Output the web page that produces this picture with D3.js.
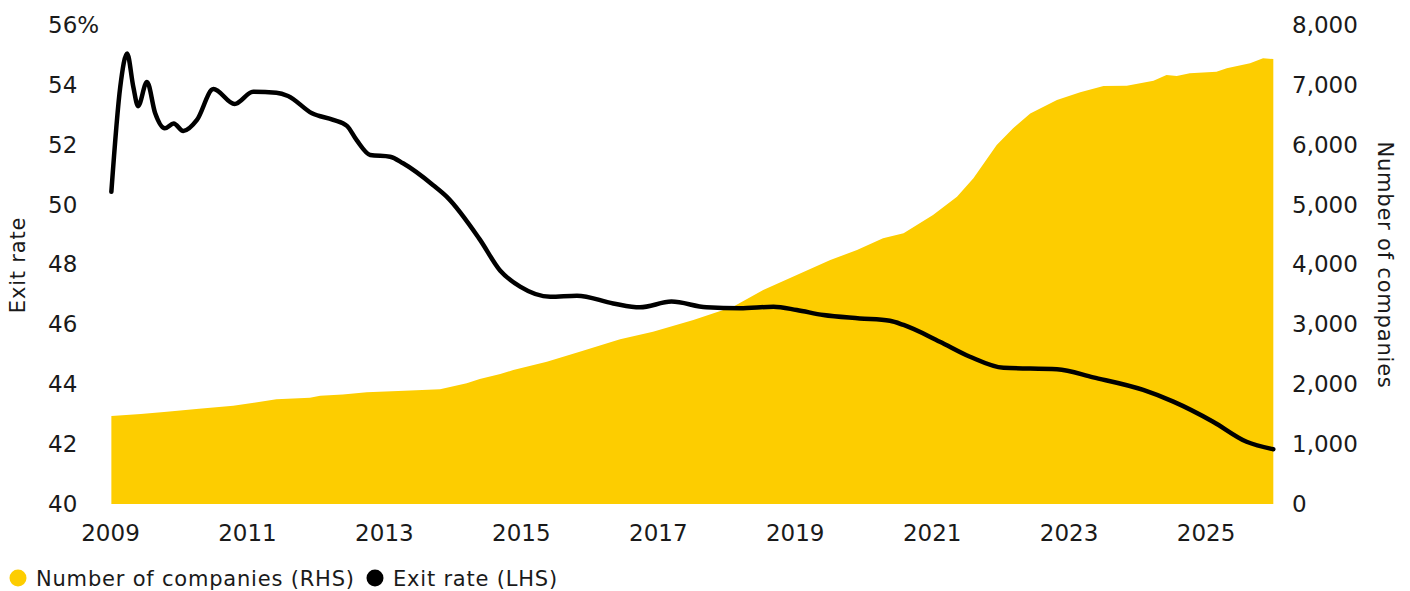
<!DOCTYPE html>
<html>
<head>
<meta charset="utf-8">
<script src="https://cdn.jsdelivr.net/npm/d3@7"></script>
<style>
  body { margin: 0; background: #fff; }
  svg text { font-family: "DejaVu Sans", sans-serif; fill: #1a1a1a; }
  .tick text { font-size: 23px; }
  .lbl { font-size: 21px; letter-spacing: 0.8px; }
</style>
</head>
<body>
<div id="chart"></div>
<script>
// exit rate, % (LHS) - dates as decimal years
const exitDates = [2009.02, 2009.15, 2009.25, 2009.34, 2009.41, 2009.54, 2009.66, 2009.80, 2009.93, 2010.07,
  2010.27, 2010.51, 2010.82, 2011.09, 2011.43, 2011.60, 2011.95, 2012.26, 2012.46, 2012.60,
  2012.80, 2013.09, 2013.28, 2013.72, 2013.92, 2014.40, 2014.70, 2014.99, 2015.43, 2015.82,
  2016.35, 2016.74, 2017.20, 2017.71, 2018.20, 2018.69, 2019.03, 2019.42, 2019.95, 2020.39,
  2020.59, 2021.12, 2021.56, 2022.05, 2022.83, 2023.36, 2024.09, 2024.53, 2025.11, 2025.60, 2025.99];
const exitRate = [50.43, 53.94, 55.05, 53.94, 53.29, 54.10, 53.05, 52.55, 52.71, 52.46,
  52.83, 53.86, 53.36, 53.77, 53.74, 53.63, 53.05, 52.83, 52.63, 52.16,
  51.66, 51.60, 51.38, 50.65, 50.26, 48.84, 47.79, 47.26, 46.92, 46.96,
  46.70, 46.57, 46.76, 46.57, 46.54, 46.59, 46.48, 46.31, 46.20, 46.12,
  45.98, 45.42, 44.92, 44.55, 44.50, 44.23, 43.81, 43.42, 42.75, 42.08, 41.83];

// number of companies (RHS)
const countDates = [2009.02, 2009.45, 2009.83, 2010.30, 2010.80, 2011.10, 2011.43, 2011.92, 2012.07, 2012.40,
  2012.75, 2013.30, 2013.82, 2014.21, 2014.40, 2014.70, 2014.89, 2015.38, 2015.86, 2016.45,
  2016.93, 2017.52, 2018.10, 2018.54, 2019.03, 2019.52, 2019.91, 2020.29, 2020.59, 2021.02,
  2021.37, 2021.61, 2021.95, 2022.19, 2022.44, 2022.83, 2023.17, 2023.51, 2023.85, 2024.24,
  2024.43, 2024.58, 2024.77, 2025.16, 2025.31, 2025.65, 2025.84, 2025.99];
const companies = [1470, 1505, 1541, 1590, 1642, 1690, 1748, 1775, 1809, 1830,
  1865, 1890, 1915, 2015, 2088, 2171, 2238, 2377, 2544, 2750,
  2878, 3073, 3295, 3574, 3824, 4075, 4242, 4437, 4521, 4826,
  5132, 5439, 5995, 6274, 6524, 6747, 6875, 6981, 6986, 7070,
  7164, 7148, 7193, 7220, 7276, 7360, 7443, 7432];

const xTicks = [2009, 2011, 2013, 2015, 2017, 2019, 2021, 2023, 2025];
const leftTicks = [40, 42, 44, 46, 48, 50, 52, 54, 56];
const rightTicks = [0, 1000, 2000, 3000, 4000, 5000, 6000, 7000, 8000];

const W = 1410, H = 591;
const yellow = "#FDCD00";

var svg = d3.select("#chart").append("svg")
  .attr("width", W).attr("height", H);

var x = d3.scaleLinear().domain([2009, 2026]).range([110, 1274]);
var yL = d3.scaleLinear().domain([40, 56]).range([504, 25]);
var yR = d3.scaleLinear().domain([0, 8000]).range([504, 25]);

var areaData = countDates.map((d, i) => ({date: d, v: companies[i]}));
var lineData = exitDates.map((d, i) => ({date: d, v: exitRate[i]}));

// yellow area
svg.append("path")
  .datum(areaData)
  .attr("fill", yellow)
  .attr("d", d3.area()
    .x(d => x(d.date))
    .y0(yR(0))
    .y1(d => yR(d.v)));

// exit rate line
svg.append("path")
  .datum(lineData)
  .attr("fill", "none")
  .attr("stroke", "#000")
  .attr("stroke-width", 4.5)
  .attr("stroke-linecap", "round")
  .attr("stroke-linejoin", "round")
  .attr("d", d3.line()
    .curve(d3.curveMonotoneX)
    .x(d => x(d.date))
    .y(d => yL(d.v)));

// axes
var gx = svg.append("g")
  .attr("transform", "translate(0,504)")
  .call(d3.axisBottom(x).tickValues(xTicks).tickFormat(d3.format("d")).tickSize(0).tickPadding(21));

var gl = svg.append("g")
  .attr("transform", "translate(48,0)")
  .call(d3.axisLeft(yL).tickValues(leftTicks).tickSize(0).tickPadding(0)
    .tickFormat(d => d == 56 ? d + "%" : d));
gl.selectAll("text").attr("text-anchor", "start").attr("x", 0);

var gr = svg.append("g")
  .attr("transform", "translate(1292,0)")
  .call(d3.axisRight(yR).tickValues(rightTicks).tickSize(0).tickPadding(0).tickFormat(d3.format(",")));

svg.selectAll(".domain").remove();
svg.selectAll(".tick text").attr("fill", "#1a1a1a").style("font-family", "DejaVu Sans");

// axis titles
svg.append("text").attr("class", "lbl")
  .attr("transform", "translate(25,265) rotate(-90)")
  .attr("text-anchor", "middle")
  .text("Exit rate");

svg.append("text").attr("class", "lbl")
  .attr("transform", "translate(1378,265) rotate(90)")
  .attr("text-anchor", "middle")
  .text("Number of companies");

// legend
var legend = [
  {label: "Number of companies (RHS)", color: yellow, x: 18},
  {label: "Exit rate (LHS)", color: "#000", x: 375}
];
var lg = svg.append("g").selectAll("g").data(legend).enter().append("g")
  .attr("transform", d => "translate(" + d.x + ",578)");
lg.append("circle").attr("r", 8.5).attr("fill", d => d.color);
lg.append("text").attr("class", "lbl")
  .attr("x", 18).attr("dy", "0.36em")
  .text(d => d.label);
</script>
</body>
</html>
